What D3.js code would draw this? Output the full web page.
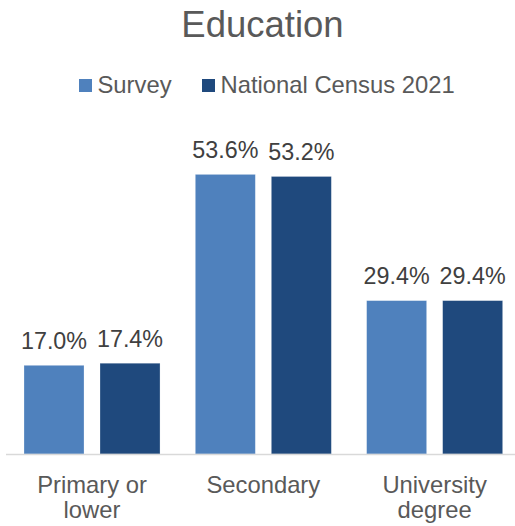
<!DOCTYPE html>
<html>
<head>
<meta charset="utf-8">
<script src="https://cdn.jsdelivr.net/npm/d3@7"></script>
<style>
  html, body { margin: 0; padding: 0; background: #fff; }
  svg text { font-family: Arial, "Liberation Sans", "DejaVu Sans", sans-serif; }
</style>
</head>
<body>
<svg id="chart" width="515" height="526"></svg>
<script>
// Education level shares, survey vs census
const categories = ["Primary or lower", "Secondary", "University degree"];
const categoryLines = [["Primary or", "lower"], ["Secondary"], ["University", "degree"]];
const seriesNames = ["Survey", "National Census 2021"];
const surveyValues = [17.0, 53.6, 29.4];
const censusValues = [17.4, 53.2, 29.4];
const seriesColors = ["#4F81BD", "#1F497D"];

const seriesValues = [surveyValues, censusValues];
const textColor = "#595959";

const svg = d3.select("#chart");

const x0 = d3.scaleBand()
  .domain(categories)
  .range([6.35, 520.3])
  .paddingInner(0.206)
  .paddingOuter(0.103);

const x1 = d3.scaleBand()
  .domain(seriesNames)
  .range([0, x0.bandwidth()])
  .paddingInner(0.2105);

const y = d3.scaleLinear().domain([0, 60]).range([454, 141]);

// Title
svg.append("text")
  .attr("x", 262.5)
  .attr("y", 37)
  .attr("text-anchor", "middle")
  .attr("font-size", 36.5)
  .attr("fill", textColor)
  .text("Education");

// Legend
const legendItems = [
  { name: seriesNames[0], color: seriesColors[0], x: 79 },
  { name: seriesNames[1], color: seriesColors[1], x: 202 }
];
const legend = svg.append("g");
legendItems.forEach(d => {
  legend.append("rect")
    .attr("x", d.x).attr("y", 79)
    .attr("width", 13).attr("height", 13)
    .attr("fill", d.color);
  legend.append("text")
    .attr("x", d.x + 18.5).attr("y", 93)
    .attr("font-size", 23.8)
    .attr("fill", textColor)
    .text(d.name);
});

// Bars
const groups = svg.append("g").selectAll("g")
  .data(categories)
  .join("g")
  .attr("transform", d => `translate(${x0(d)},0)`);

groups.each(function (cat, ci) {
  const g = d3.select(this);
  seriesNames.forEach((s, si) => {
    const v = seriesValues[si][ci];
    g.append("rect")
      .attr("x", x1(s))
      .attr("y", y(v))
      .attr("width", x1.bandwidth())
      .attr("height", y(0) - y(v))
      .attr("fill", seriesColors[si])
      .attr("stroke", "#ffffff")
      .attr("stroke-opacity", 0.35)
      .attr("stroke-width", 0.75);
    g.append("text")
      .attr("x", x1(s) + x1.bandwidth() / 2)
      .attr("y", y(v) - 16.5)
      .attr("text-anchor", "middle")
      .attr("font-size", 23.3)
      .attr("fill", "#404040")
      .text(v.toFixed(1) + "%");
  });
});

// Category axis
svg.append("line")
  .attr("x1", 6).attr("x2", 515)
  .attr("y1", 454.5).attr("y2", 454.5)
  .attr("stroke", "#d9d9d9")
  .attr("stroke-width", 1.5);

categories.forEach((c, i) => {
  const t = svg.append("text")
    .attr("x", x0(c) + x0.bandwidth() / 2)
    .attr("y", 493)
    .attr("text-anchor", "middle")
    .attr("font-size", 23.8)
    .attr("fill", textColor);
  categoryLines[i].forEach((line, li) => {
    t.append("tspan")
      .attr("x", x0(c) + x0.bandwidth() / 2)
      .attr("dy", li === 0 ? 0 : 25)
      .text(line);
  });
});
</script>
</body>
</html>
